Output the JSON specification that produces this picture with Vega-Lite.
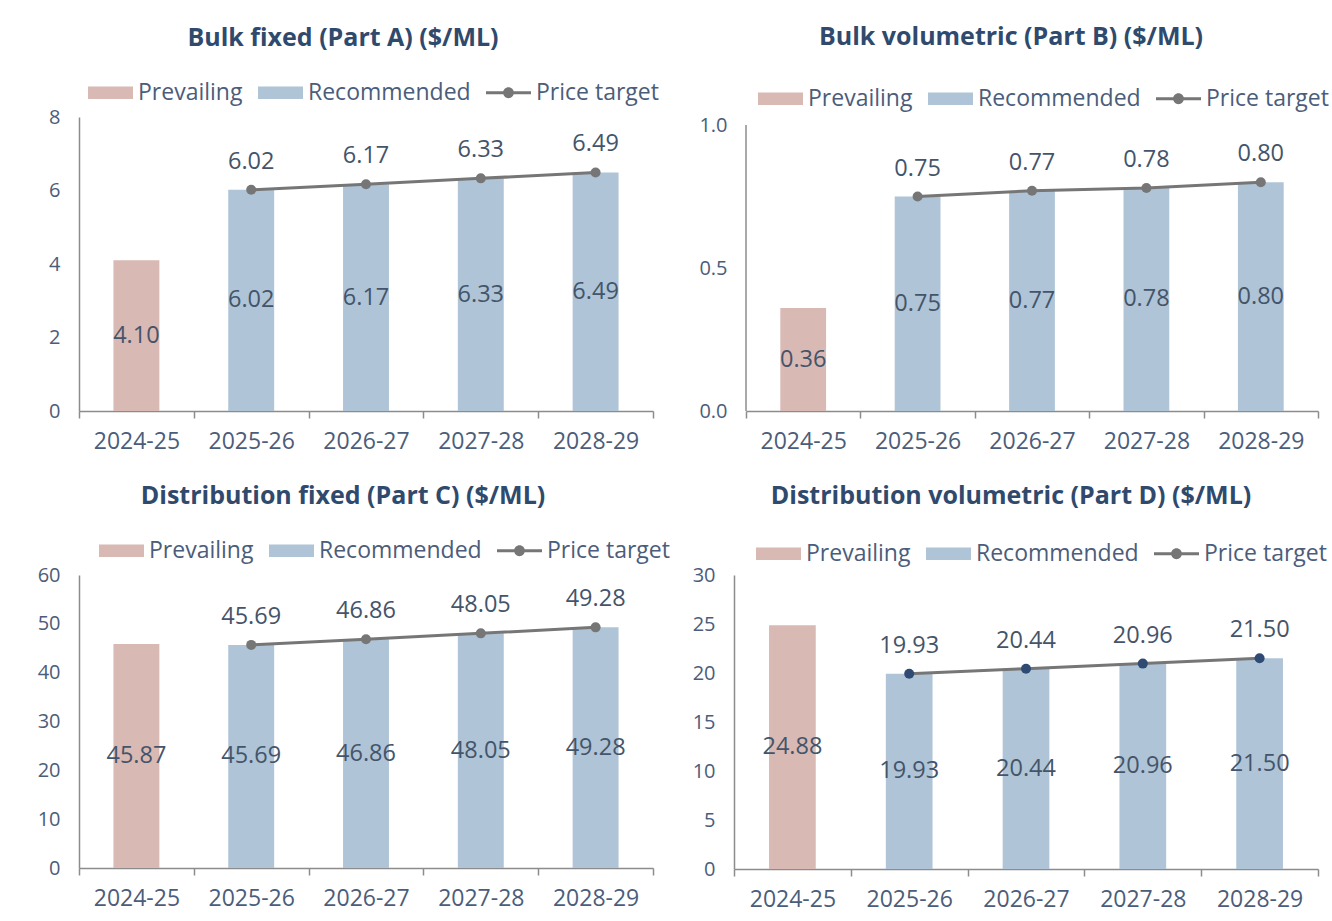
{
  "$schema": "https://vega.github.io/schema/vega-lite/v6.json",
  "background": "white",
  "padding": {"left": 34, "top": 25, "right": 0, "bottom": 4},
  "datasets": {
    "d": [
      {"panel": "A", "year": "2024-25", "type": "Prevailing", "value": 4.10},
      {"panel": "A", "year": "2025-26", "type": "Recommended", "value": 6.02},
      {"panel": "A", "year": "2026-27", "type": "Recommended", "value": 6.17},
      {"panel": "A", "year": "2027-28", "type": "Recommended", "value": 6.33},
      {"panel": "A", "year": "2028-29", "type": "Recommended", "value": 6.49},
      {"panel": "A", "year": "2025-26", "type": "Price target", "value": 6.02},
      {"panel": "A", "year": "2026-27", "type": "Price target", "value": 6.17},
      {"panel": "A", "year": "2027-28", "type": "Price target", "value": 6.33},
      {"panel": "A", "year": "2028-29", "type": "Price target", "value": 6.49},
      {"panel": "B", "year": "2024-25", "type": "Prevailing", "value": 0.36},
      {"panel": "B", "year": "2025-26", "type": "Recommended", "value": 0.75},
      {"panel": "B", "year": "2026-27", "type": "Recommended", "value": 0.77},
      {"panel": "B", "year": "2027-28", "type": "Recommended", "value": 0.78},
      {"panel": "B", "year": "2028-29", "type": "Recommended", "value": 0.80},
      {"panel": "B", "year": "2025-26", "type": "Price target", "value": 0.75},
      {"panel": "B", "year": "2026-27", "type": "Price target", "value": 0.77},
      {"panel": "B", "year": "2027-28", "type": "Price target", "value": 0.78},
      {"panel": "B", "year": "2028-29", "type": "Price target", "value": 0.80},
      {"panel": "C", "year": "2024-25", "type": "Prevailing", "value": 45.87},
      {"panel": "C", "year": "2025-26", "type": "Recommended", "value": 45.69},
      {"panel": "C", "year": "2026-27", "type": "Recommended", "value": 46.86},
      {"panel": "C", "year": "2027-28", "type": "Recommended", "value": 48.05},
      {"panel": "C", "year": "2028-29", "type": "Recommended", "value": 49.28},
      {"panel": "C", "year": "2025-26", "type": "Price target", "value": 45.69},
      {"panel": "C", "year": "2026-27", "type": "Price target", "value": 46.86},
      {"panel": "C", "year": "2027-28", "type": "Price target", "value": 48.05},
      {"panel": "C", "year": "2028-29", "type": "Price target", "value": 49.28},
      {"panel": "D", "year": "2024-25", "type": "Prevailing", "value": 24.88},
      {"panel": "D", "year": "2025-26", "type": "Recommended", "value": 19.93},
      {"panel": "D", "year": "2026-27", "type": "Recommended", "value": 20.44},
      {"panel": "D", "year": "2027-28", "type": "Recommended", "value": 20.96},
      {"panel": "D", "year": "2028-29", "type": "Recommended", "value": 21.50},
      {"panel": "D", "year": "2025-26", "type": "Price target", "value": 19.93},
      {"panel": "D", "year": "2026-27", "type": "Price target", "value": 20.44},
      {"panel": "D", "year": "2027-28", "type": "Price target", "value": 20.96},
      {"panel": "D", "year": "2028-29", "type": "Price target", "value": 21.50}
    ]
  },
  "data": {"name": "d"},
  "columns": 2,
  "align": "none",
  "spacing": {"row": 31, "column": 19},
  "resolve": {"scale": {"color": "independent"}, "legend": {"color": "independent"}},
  "concat": [
    {
      "title": {"text": "Bulk fixed (Part A) ($/ML)", "dx": -23, "offset": 19},
      "width": 574, "height": 294,
      "transform": [{"filter": "datum.panel === 'A'"}],
      "encoding": {"x": {"field": "year", "type": "nominal", "title": null, "scale": {"paddingInner": 0, "paddingOuter": 0}}},
      "layer": [
        {
          "encoding": {"y": {"field": "value", "type": "quantitative", "title": null, "scale": {"domain": [0, 8], "nice": false}, "axis": {"values": [0, 2, 4, 6, 8], "minExtent": 45, "maxExtent": 45}}},
          "layer": [
            {"transform": [{"filter": "datum.type !== 'Price target'"}], "mark": {"type": "bar", "width": {"band": 0.4}},
             "encoding": {"color": {"field": "type", "type": "nominal",
               "scale": {"domain": ["Prevailing", "Recommended", "Price target"], "range": ["#D9B9B4", "#AFC4D6", "#767676"]},
               "legend": {"orient": "none", "legendX": 9, "legendY": -47, "direction": "horizontal", "title": null,
                 "encode": {"symbols": {"update": {
                   "shape": {"signal": "datum.value === 'Price target' ? 'M-1,-0.07H1V0.07H-1Z M0.24,0A0.24,0.24,0,1,1,-0.24,0A0.24,0.24,0,1,1,0.24,0Z' : 'M-1,-0.28H1V0.28H-1Z'"},
                   "fill": {"signal": "datum.value === 'Prevailing' ? '#D9B9B4' : datum.value === 'Recommended' ? '#AFC4D6' : '#767676'"},
                   "strokeWidth": {"value": 0}, "opacity": {"value": 1}}}}}}}},
            {"transform": [{"filter": "datum.type === 'Price target'"}], "mark": {"type": "line", "color": "#767676", "strokeWidth": 3}, "encoding": {}},
            {"transform": [{"filter": "datum.type === 'Price target'"}], "mark": {"type": "point", "filled": true, "size": 100, "color": "#767676", "opacity": 1}, "encoding": {}},
            {"transform": [{"filter": "datum.type === 'Price target'"}], "mark": {"type": "text", "dy": -28, "fontSize": 23.5, "color": "#44546A"},
             "encoding": {"text": {"field": "value", "type": "quantitative", "format": ".2f"}}}
          ]
        },
        {"transform": [{"filter": "datum.type !== 'Price target'"}], "mark": {"type": "text", "fontSize": 23.5, "color": "#44546A"},
         "encoding": {"y": {"field": "value", "type": "quantitative", "scale": {"domain": [0, 16], "nice": false}, "axis": null},
           "text": {"field": "value", "type": "quantitative", "format": ".2f"}}}
      ],
      "resolve": {"scale": {"y": "independent"}}
    },
    {
      "title": {"text": "Bulk volumetric (Part B) ($/ML)", "dx": -21, "offset": 26},
      "width": 572, "height": 294,
      "transform": [{"filter": "datum.panel === 'B'"}],
      "encoding": {"x": {"field": "year", "type": "nominal", "title": null, "scale": {"paddingInner": 0, "paddingOuter": 0}}},
      "layer": [
        {
          "encoding": {"y": {"field": "value", "type": "quantitative", "title": null, "scale": {"domain": [0, 1.028], "nice": false}, "axis": {"values": [0, 0.5, 1], "format": ".1f", "domain": false, "minExtent": 57, "maxExtent": 57}}},
          "layer": [
            {"transform": [{"filter": "datum.year === '2024-25'"}], "mark": {"type": "rule", "color": "#8C8C8C", "strokeWidth": 1.5},
             "encoding": {"x": {"datum": "2024-25", "bandPosition": 0}, "y": {"datum": 0}, "y2": {"datum": 1}}},
            {"transform": [{"filter": "datum.type !== 'Price target'"}], "mark": {"type": "bar", "width": {"band": 0.4}},
             "encoding": {"color": {"field": "type", "type": "nominal",
               "scale": {"domain": ["Prevailing", "Recommended", "Price target"], "range": ["#D9B9B4", "#AFC4D6", "#767676"]},
               "legend": {"orient": "none", "legendX": 12, "legendY": -41, "direction": "horizontal", "title": null,
                 "encode": {"symbols": {"update": {
                   "shape": {"signal": "datum.value === 'Price target' ? 'M-1,-0.07H1V0.07H-1Z M0.24,0A0.24,0.24,0,1,1,-0.24,0A0.24,0.24,0,1,1,0.24,0Z' : 'M-1,-0.28H1V0.28H-1Z'"},
                   "fill": {"signal": "datum.value === 'Prevailing' ? '#D9B9B4' : datum.value === 'Recommended' ? '#AFC4D6' : '#767676'"},
                   "strokeWidth": {"value": 0}, "opacity": {"value": 1}}}}}}}},
            {"transform": [{"filter": "datum.type === 'Price target'"}], "mark": {"type": "line", "color": "#767676", "strokeWidth": 3}, "encoding": {}},
            {"transform": [{"filter": "datum.type === 'Price target'"}], "mark": {"type": "point", "filled": true, "size": 100, "color": "#767676", "opacity": 1}, "encoding": {}},
            {"transform": [{"filter": "datum.type === 'Price target'"}], "mark": {"type": "text", "dy": -28, "fontSize": 23.5, "color": "#44546A"},
             "encoding": {"text": {"field": "value", "type": "quantitative", "format": ".2f"}}}
          ]
        },
        {"transform": [{"filter": "datum.type !== 'Price target'"}], "mark": {"type": "text", "fontSize": 23.5, "color": "#44546A"},
         "encoding": {"y": {"field": "value", "type": "quantitative", "scale": {"domain": [0, 2.056], "nice": false}, "axis": null},
           "text": {"field": "value", "type": "quantitative", "format": ".2f"}}}
      ],
      "resolve": {"scale": {"y": "independent"}}
    },
    {
      "title": {"text": "Distribution fixed (Part C) ($/ML)", "dx": -23, "offset": 19},
      "width": 574, "height": 293,
      "transform": [{"filter": "datum.panel === 'C'"}],
      "encoding": {"x": {"field": "year", "type": "nominal", "title": null, "scale": {"paddingInner": 0, "paddingOuter": 0}}},
      "layer": [
        {
          "encoding": {"y": {"field": "value", "type": "quantitative", "title": null, "scale": {"domain": [0, 60], "nice": false}, "axis": {"values": [0, 10, 20, 30, 40, 50, 60], "minExtent": 45, "maxExtent": 45}}},
          "layer": [
            {"transform": [{"filter": "datum.type !== 'Price target'"}], "mark": {"type": "bar", "width": {"band": 0.4}},
             "encoding": {"color": {"field": "type", "type": "nominal",
               "scale": {"domain": ["Prevailing", "Recommended", "Price target"], "range": ["#D9B9B4", "#AFC4D6", "#767676"]},
               "legend": {"orient": "none", "legendX": 20, "legendY": -47, "direction": "horizontal", "title": null,
                 "encode": {"symbols": {"update": {
                   "shape": {"signal": "datum.value === 'Price target' ? 'M-1,-0.07H1V0.07H-1Z M0.24,0A0.24,0.24,0,1,1,-0.24,0A0.24,0.24,0,1,1,0.24,0Z' : 'M-1,-0.28H1V0.28H-1Z'"},
                   "fill": {"signal": "datum.value === 'Prevailing' ? '#D9B9B4' : datum.value === 'Recommended' ? '#AFC4D6' : '#767676'"},
                   "strokeWidth": {"value": 0}, "opacity": {"value": 1}}}}}}}},
            {"transform": [{"filter": "datum.type === 'Price target'"}], "mark": {"type": "line", "color": "#767676", "strokeWidth": 3}, "encoding": {}},
            {"transform": [{"filter": "datum.type === 'Price target'"}], "mark": {"type": "point", "filled": true, "size": 100, "color": "#767676", "opacity": 1}, "encoding": {}},
            {"transform": [{"filter": "datum.type === 'Price target'"}], "mark": {"type": "text", "dy": -28, "fontSize": 23.5, "color": "#44546A"},
             "encoding": {"text": {"field": "value", "type": "quantitative", "format": ".2f"}}}
          ]
        },
        {"transform": [{"filter": "datum.type !== 'Price target'"}], "mark": {"type": "text", "fontSize": 23.5, "color": "#44546A"},
         "encoding": {"y": {"field": "value", "type": "quantitative", "scale": {"domain": [0, 120], "nice": false}, "axis": null},
           "text": {"field": "value", "type": "quantitative", "format": ".2f"}}}
      ],
      "resolve": {"scale": {"y": "independent"}}
    },
    {
      "title": {"text": "Distribution volumetric (Part D) ($/ML)", "dx": -15, "offset": 22},
      "width": 584, "height": 294,
      "transform": [{"filter": "datum.panel === 'D'"}],
      "encoding": {"x": {"field": "year", "type": "nominal", "title": null, "scale": {"paddingInner": 0, "paddingOuter": 0}}},
      "layer": [
        {
          "encoding": {"y": {"field": "value", "type": "quantitative", "title": null, "scale": {"domain": [0, 30], "nice": false}, "axis": {"values": [0, 5, 10, 15, 20, 25, 30], "minExtent": 45, "maxExtent": 45}}},
          "layer": [
            {"transform": [{"filter": "datum.type !== 'Price target'"}], "mark": {"type": "bar", "width": {"band": 0.4}},
             "encoding": {"color": {"field": "type", "type": "nominal",
               "scale": {"domain": ["Prevailing", "Recommended", "Price target"], "range": ["#D9B9B4", "#AFC4D6", "#767676"]},
               "legend": {"orient": "none", "legendX": 22, "legendY": -44, "direction": "horizontal", "title": null,
                 "encode": {"symbols": {"update": {
                   "shape": {"signal": "datum.value === 'Price target' ? 'M-1,-0.07H1V0.07H-1Z M0.24,0A0.24,0.24,0,1,1,-0.24,0A0.24,0.24,0,1,1,0.24,0Z' : 'M-1,-0.28H1V0.28H-1Z'"},
                   "fill": [
                     {"test": "datum.value === 'Price target'", "value": {"gradient": "linear", "x1": 0, "y1": 0, "x2": 1, "y2": 0, "stops": [
                       {"offset": 0, "color": "#767676"}, {"offset": 0.38, "color": "#767676"}, {"offset": 0.38, "color": "#2F4B73"},
                       {"offset": 0.62, "color": "#2F4B73"}, {"offset": 0.62, "color": "#767676"}, {"offset": 1, "color": "#767676"}]}},
                     {"signal": "datum.value === 'Prevailing' ? '#D9B9B4' : '#AFC4D6'"}
                   ],
                   "strokeWidth": {"value": 0}, "opacity": {"value": 1}}}}}}}},
            {"transform": [{"filter": "datum.type === 'Price target'"}], "mark": {"type": "line", "color": "#767676", "strokeWidth": 3}, "encoding": {}},
            {"transform": [{"filter": "datum.type === 'Price target'"}], "mark": {"type": "point", "filled": true, "size": 100, "color": "#2F4B73", "opacity": 1}, "encoding": {}},
            {"transform": [{"filter": "datum.type === 'Price target'"}], "mark": {"type": "text", "dy": -28, "fontSize": 23.5, "color": "#44546A"},
             "encoding": {"text": {"field": "value", "type": "quantitative", "format": ".2f"}}}
          ]
        },
        {"transform": [{"filter": "datum.type !== 'Price target'"}], "mark": {"type": "text", "fontSize": 23.5, "color": "#44546A"},
         "encoding": {"y": {"field": "value", "type": "quantitative", "scale": {"domain": [0, 60], "nice": false}, "axis": null},
           "text": {"field": "value", "type": "quantitative", "format": ".2f"}}}
      ],
      "resolve": {"scale": {"y": "independent"}}
    }
  ],
  "config": {
    "font": "Open Sans",
    "view": {"stroke": null},
    "title": {"fontSize": 25, "fontWeight": "bold", "color": "#2F4A6D", "anchor": "middle", "font": "Open Sans"},
    "axis": {"grid": false, "domainColor": "#8C8C8C", "domainWidth": 1.5, "labelColor": "#4B5D7A", "labelFont": "Open Sans"},
    "axisX": {"labelFontSize": 23, "labelAngle": 0, "tickBand": "extent", "ticks": true, "tickSize": 7, "tickColor": "#8C8C8C", "tickWidth": 1.5, "labelPadding": 12},
    "axisY": {"labelFontSize": 20, "ticks": false, "labelPadding": 19},
    "legend": {"labelFontSize": 23, "labelFont": "Open Sans", "labelColor": "#4B5D7A", "labelLimit": 0, "symbolSize": 2025, "labelOffset": 5, "columnPadding": 15, "padding": 0, "symbolStrokeWidth": 0, "symbolOpacity": 1}
  }
}
